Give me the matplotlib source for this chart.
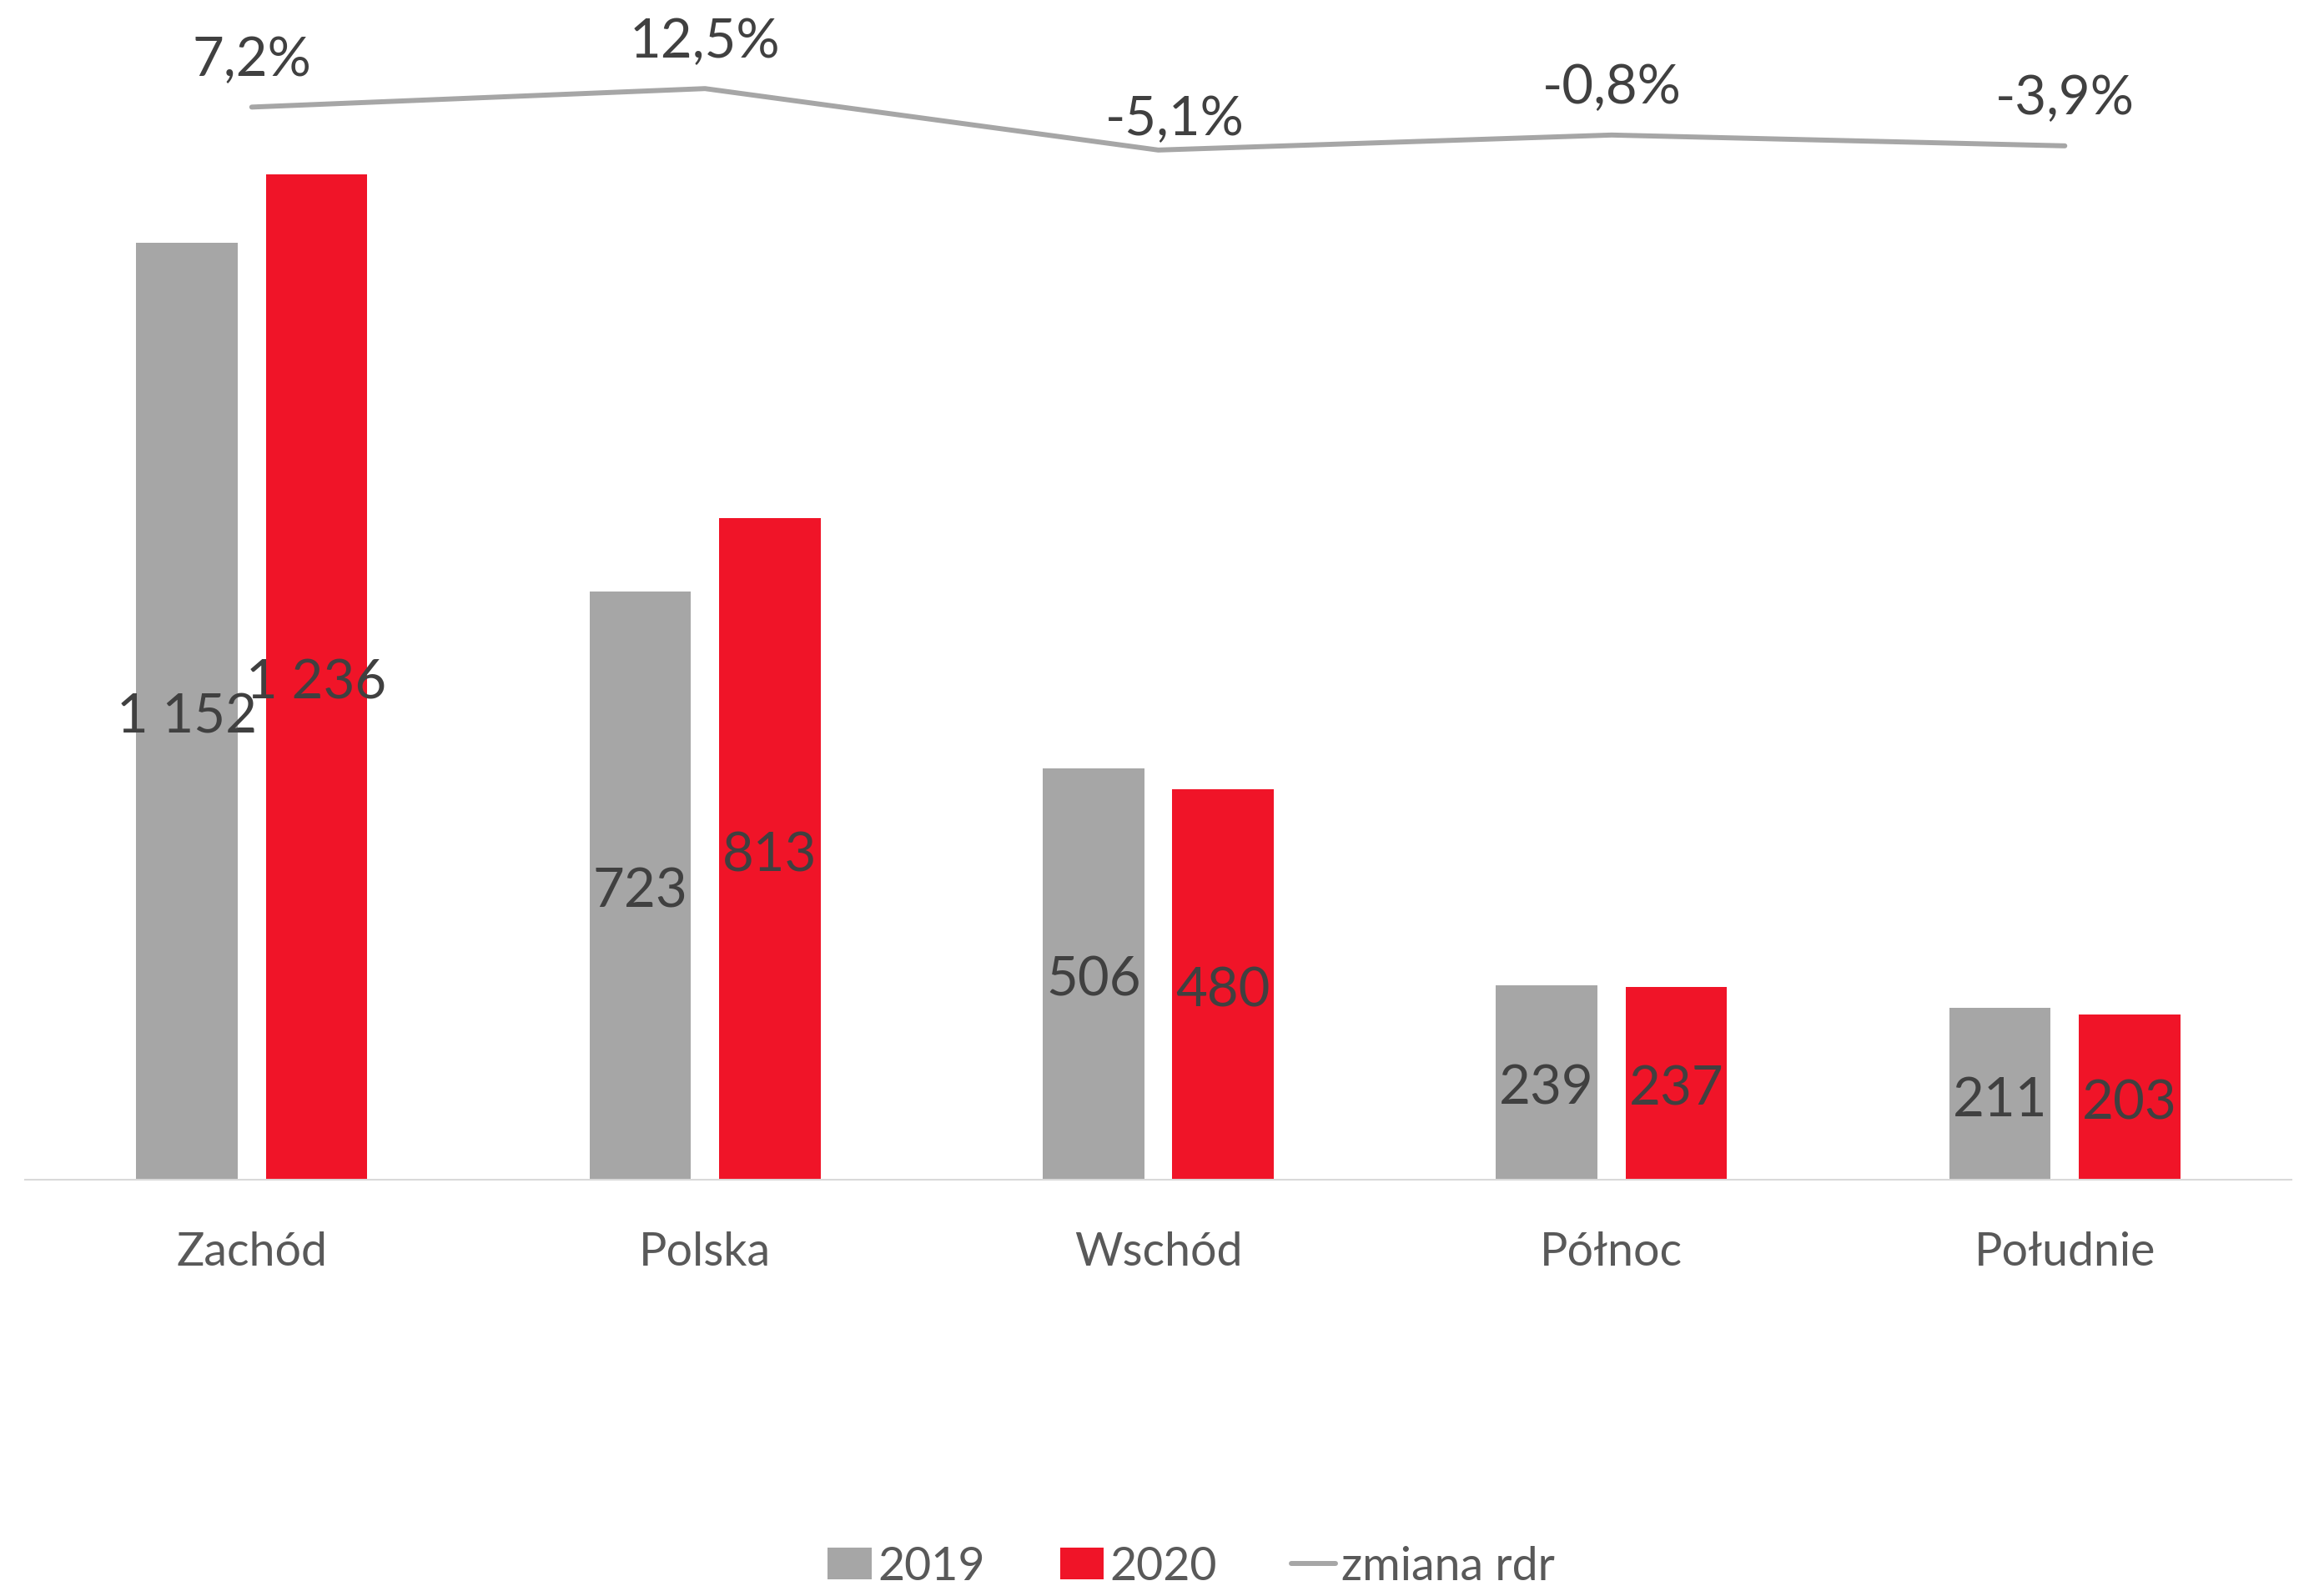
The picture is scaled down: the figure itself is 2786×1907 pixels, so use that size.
import numpy as np
import matplotlib
matplotlib.use("Agg")
import matplotlib.pyplot as plt

categories = ["Zachód", "Polska", "Wschód", "Północ", "Południe"]
values_2019 = [1152, 723, 506, 239, 211]
values_2020 = [1236, 813, 480, 237, 203]
change_yoy = [0.072, 0.125, -0.051, -0.008, -0.039]

GRAY = "#A6A6A6"
RED = "#F01428"
LABEL_DARK = "#404040"
LABEL_MID = "#595959"

plt.rcParams["font.family"] = ["Lato", "DejaVu Sans"]

fig = plt.figure(figsize=(27.86, 19.07), dpi=100)
ax = fig.add_axes([0.0108, 0.2585, 0.9752, 0.7352])

x = np.arange(len(categories))
width = 0.224
offset = 0.143
bars_19 = ax.bar(x - offset, values_2019, width, color=GRAY, label="2019")
bars_20 = ax.bar(x + offset, values_2020, width, color=RED, label="2020")

ax.set_xlim(-0.5, 4.5)
ax.set_ylim(0, 1438)
ax.set_yticks([])
for side in ("left", "right", "top"):
    ax.spines[side].set_visible(False)
ax.spines["bottom"].set_color("#D9D9D9")
ax.spines["bottom"].set_linewidth(1.5)

ax.set_xticks(x)
ax.set_xticklabels(categories, fontsize=40, color=LABEL_MID, va="baseline")
ax.tick_params(axis="x", length=0, pad=74)

# value labels centred in the bars, polish thousands separator
def fmt_num(v):
    return f"{v:,}".replace(",", " ")

for xs, vals in ((x - offset, values_2019), (x + offset, values_2020)):
    for xi, v in zip(xs, vals):
        ax.annotate(fmt_num(v), (xi, v / 2), xytext=(0, -19), textcoords="offset points",
                    ha="center", va="baseline", fontsize=47, color=LABEL_DARK)

# year-on-year change on a secondary axis
ax2 = ax.twinx()
line, = ax2.plot(x, change_yoy, color=GRAY, lw=4.3, solid_capstyle="round",
                 solid_joinstyle="round", label="zmiana rdr")
ax2.set_ylim(-3.0, 0.35)
ax2.axis("off")

# the label at the dip sits a bit lower/right in the original
nudge = {2: (14, -14)}
for i, (xi, v) in enumerate(zip(x, change_yoy)):
    txt = f"{v * 100:.1f}%".replace(".", ",")
    dx, dy = nudge.get(i, (0, 0))
    ax2.annotate(txt, (xi, v), xytext=(dx, 27 + dy), textcoords="offset points",
                 ha="center", va="baseline", fontsize=47, color=LABEL_DARK)

fig.legend(handles=[bars_19, bars_20, line], labels=["2019", "2020", "zmiana rdr"],
           loc="center", bbox_to_anchor=(0.5126, 0.0152), ncol=3, frameon=False,
           fontsize=40, handlelength=0.94, handleheight=0.65, handletextpad=0.13,
           columnspacing=1.62, labelcolor=LABEL_MID)

fig.savefig("out.png", dpi=100)
